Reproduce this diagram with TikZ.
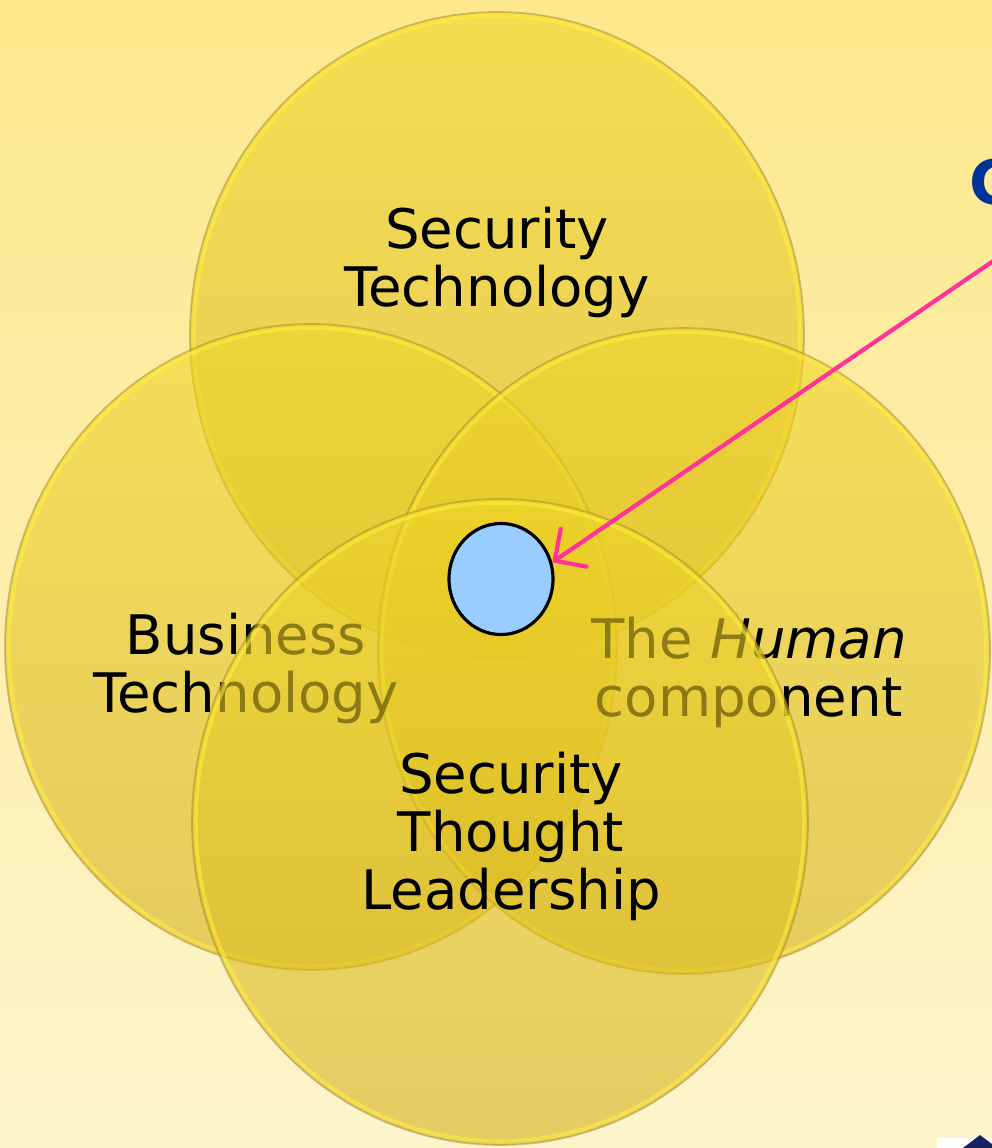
\documentclass[tikz,border=0pt]{standalone}
\usepackage{fontspec}
\setmainfont{DejaVu Sans}
\usetikzlibrary{arrows.meta,shapes.geometric}
\definecolor{bgtop}{RGB}{253,232,140}
\definecolor{bgbot}{RGB}{254,244,204}
\definecolor{goldtop}{RGB}{240,214,40}
\definecolor{goldbot}{RGB}{212,178,30}
\definecolor{goldrim}{RGB}{160,130,40}
\definecolor{glow}{RGB}{255,240,60}
\definecolor{dotblue}{RGB}{153,204,255}
\definecolor{pointer}{RGB}{255,51,153}
\definecolor{titleblue}{RGB}{0,51,153}
\definecolor{navy}{RGB}{25,35,95}

\begin{document}
\begin{tikzpicture}[x=0.01cm,y=-0.01cm,
  bubble/.style={top color=goldtop,bottom color=goldbot,fill opacity=0.6,
    draw=goldrim,draw opacity=0.45,line width=0.5pt},
  rim/.style={draw=glow,draw opacity=0.55,line width=1pt},
  lbl/.style={align=center,inner sep=0pt,text=black,
    font=\fontsize{15.5}{16.5}\selectfont}]
% Frame and background
\clip (0,0) rectangle (992,1148);
\shade[top color=bgtop,bottom color=bgbot] (0,0) rectangle (992,1148);
% Circle "Security Technology"
\path[bubble] (497,335) ellipse [x radius=307,y radius=323];
\draw[rim] (497,335) ellipse [x radius=303,y radius=319];
% Circle "Business Technology"
\path[bubble] (311,647) ellipse [x radius=306,y radius=323];
\draw[rim] (311,647) ellipse [x radius=302,y radius=319];
% Circle "The Human component"
\path[bubble] (684,651) ellipse [x radius=306,y radius=323];
\draw[rim] (684,651) ellipse [x radius=302,y radius=319];
% Labels under the bottom circle
\node[lbl] (sectech) at (497,262) {Security\\Technology};
\node[lbl] (bustech) at (246,668) {Business\\Technology};
\node[lbl] (human) at (749,672) {The \textit{Human}\\component};
% Circle "Security Thought Leadership"
\path[bubble] (500,822) ellipse [x radius=308,y radius=323];
\draw[rim] (500,822) ellipse [x radius=304,y radius=319];
% Label of the bottom circle
\node[lbl] (leader) at (511,836) {Security\\Thought\\Leadership};
% Centre spot
\node[ellipse,draw=black,line width=0.9pt,fill=dotblue,inner sep=0pt,
  minimum width=1.04cm,minimum height=1.11cm] (dot) at (501,579) {};
% Title, cut by the right edge
\node[anchor=base west,inner sep=0pt,text=titleblue,
  font=\bfseries\fontsize{17.5}{17.5}\selectfont] (title) at (969,204) {C};
% Pointer to the spot
\coordinate (src) at (1002,255);
\draw[pointer,line width=1.2pt,line cap=round,
  -{Straight Barb[length=6.5pt,width=13pt,line cap=round]}] (src) -- (dot.18);
% Logo corner
\fill[white] (937,1138) rectangle (992,1148);
\fill[navy] (963,1148) -- (980,1135) -- (992,1144) -- (992,1148) -- cycle;
\end{tikzpicture}
\end{document}
